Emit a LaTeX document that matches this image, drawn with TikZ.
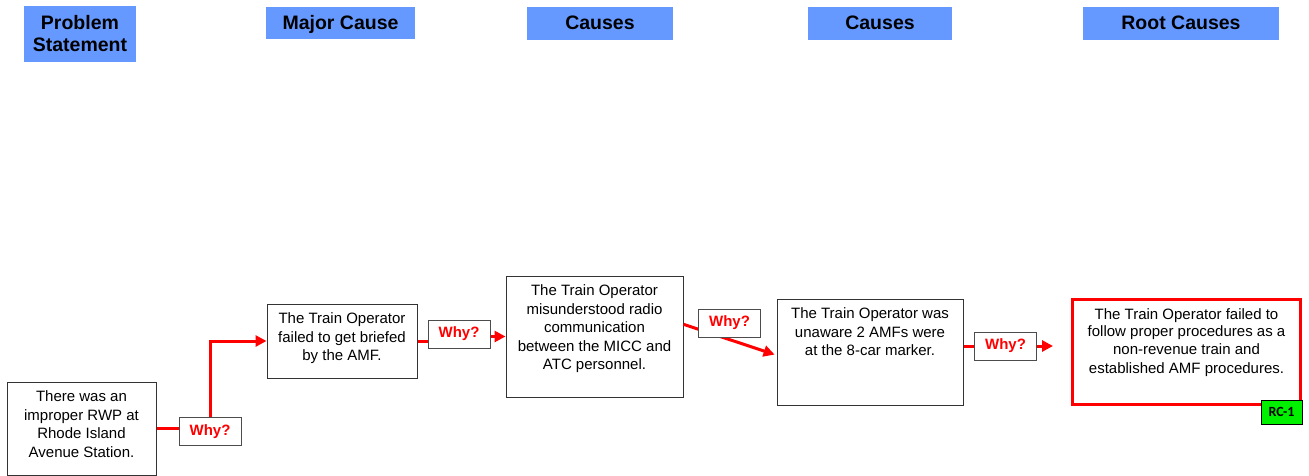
\documentclass[tikz,border=0pt]{standalone}
\usepackage{fontspec}
\setmainfont{Liberation Sans}
\newfontfamily\rcfont{Carlito}
\usetikzlibrary{arrows.meta,calc}
\definecolor{hdrblue}{RGB}{102,153,255}
\definecolor{rcgreen}{RGB}{0,240,0}
\newcommand\boxtext[3]{\parbox[c][#2][t]{#1}{\centering\vspace*{7pt}\strut#3\par}}
\tikzset{
  hdr/.style={fill=hdrblue, inner sep=0pt, align=center, font=\bfseries\fontsize{19.5}{22}\selectfont},
  hdrone/.style={hdr, text height=13pt, text depth=-1pt},
  cbox/.style={draw=black!80, line width=1pt, inner sep=0pt, font=\fontsize{15}{18.5}\selectfont},
  why/.style={draw=black!70, line width=1pt, fill=white, text=red, inner sep=0pt,
    minimum width=62pt, minimum height=28pt, font=\bfseries\fontsize{15}{18}\selectfont},
  link/.style={draw=red, line width=3pt},
  tip/.style={-{Triangle[length=11pt,width=11pt]}}
}

\begin{document}
\begin{tikzpicture}[x=1pt,y=-1pt]
\useasboundingbox (0,0) rectangle (1309,476);

% headings
\node[hdr, minimum width=112pt, minimum height=56pt] (h0) at (80,34) {Problem\\Statement};
\node[hdrone, minimum width=149pt, minimum height=32pt] (h1) at (340.5,23) {Major Cause};
\node[hdrone, minimum width=146pt, minimum height=33pt] (h2) at (600,23.5) {Causes};
\node[hdrone, minimum width=144pt, minimum height=33pt] (h3) at (880,23.5) {Causes};
\node[hdrone, minimum width=196pt, minimum height=33pt] (h4) at (1181,23.5) {Root Causes};

% the chain of whys
\node[cbox] (b0) at (81.5,428.5) {\boxtext{149pt}{93pt}{There was an\\improper RWP at\\Rhode Island\\Avenue Station.}};
\node[cbox] (b1) at (342,341) {\boxtext{150pt}{74pt}{The Train Operator\\failed to get briefed\\by the AMF.}};
\node[cbox] (b2) at (594.5,336.5) {\boxtext{177pt}{121pt}{The Train Operator\\misunderstood radio\\communication\\between the MICC and\\ATC personnel.}};
\node[cbox] (b3) at (870,352) {\boxtext{186pt}{106pt}{The Train Operator was\\unaware 2 AMFs were\\at the 8-car marker.}};
\node[cbox, draw=red, line width=3pt] (b4) at (1186.5,352) {\boxtext{228pt}{105pt}{\vspace*{-1.5pt}The Train Operator failed to\\follow proper procedures as a\\non-revenue train and\\established AMF procedures.}};
\node[draw=black, line width=0.8pt, fill=rcgreen, inner sep=0pt, minimum width=41pt, minimum height=24pt,
  font=\rcfont\bfseries\fontsize{14}{16}\selectfont] (rc1) at (1281.5,412) {RC-1};

\node[why] (w1) at (210,431.5) {Why?};
\draw[link] (b0.east) -- (b0.east -| w1.west);
\draw[link, tip] (w1.north) |- (b1.west);

\node[why] (w2) at (459,334) {Why?};
\draw[link] (b1.east) -- (b1.east -| w2.west);
\draw[link, tip] (w2.east |- b2.west) -- (b2.west);

\coordinate (d1) at ($(b2.north east)!0.4!(b2.south east)$);
\coordinate (d2) at ($(b3.north west)!0.53!(b3.south west)$);
\draw[link, tip, shorten >=2pt] (d1) -- (d2);
\node[why] (w3) at (729.5,323) {Why?};

\node[why] (w4) at (1005.5,346) {Why?};
\coordinate (t4) at (1053,346);
\draw[link] (b3.east |- w4.west) -- (w4.west);
\draw[link, tip] (w4.east) -- (t4);
\end{tikzpicture}
\end{document}
